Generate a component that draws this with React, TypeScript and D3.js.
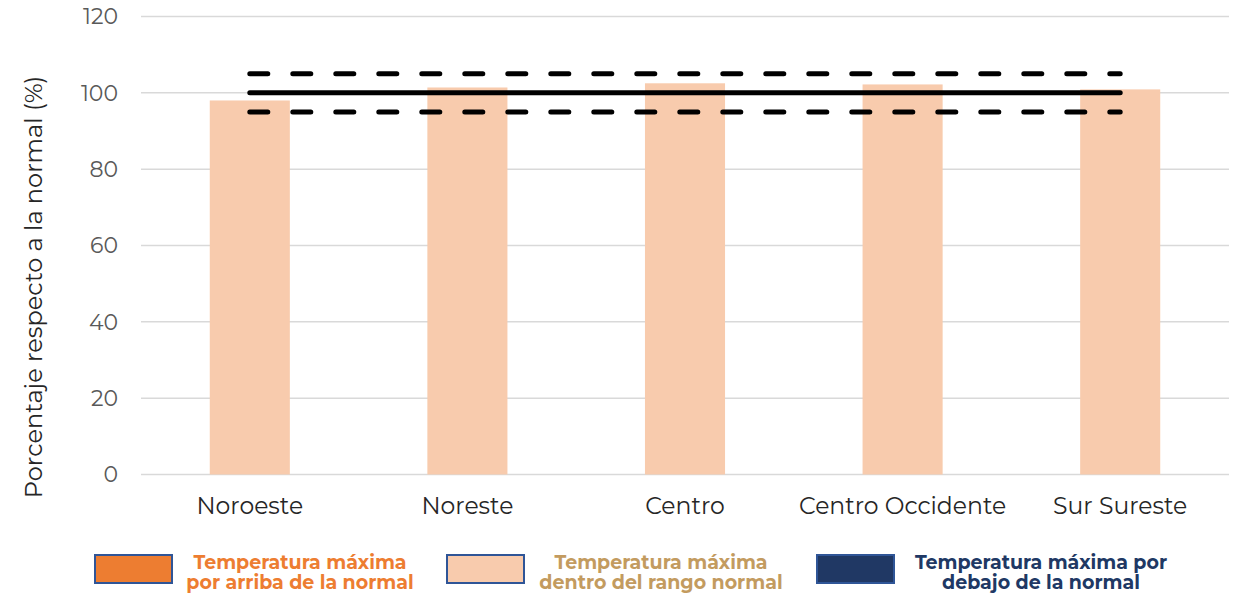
import React from "react";
import * as d3 from "d3";

const categories = ["Noroeste", "Noreste", "Centro", "Centro Occidente", "Sur Sureste"];
const values = [98.0, 101.4, 102.5, 102.2, 100.9];
const yTicks = [0, 20, 40, 60, 80, 100, 120];
const refNormal = 100;
const refUpper = 105;
const refLower = 95;
const legendItems = [
  { lines: ["Temperatura máxima", "por arriba de la normal"], fill: "#ED7D31", text: "#ED7D31" },
  { lines: ["Temperatura máxima", "dentro del rango normal"], fill: "#F8CBAD", text: "#C39B5F" },
  { lines: ["Temperatura máxima por", "debajo de la normal"], fill: "#203864", text: "#203864" },
];

const W = 1238;
const H = 594;
const left = 141;
const right = 1229;
const top = 16.5;
const bottom = 474.5;

export default function App() {
  const x = d3.scaleBand<string>().domain(categories).range([left, right]).paddingInner(0.632).paddingOuter(0.316);
  const xc = d3.scaleBand<string>().domain(categories).range([left, right]);
  const y = d3.scaleLinear().domain([0, 120]).range([bottom, top]);
  const font = "Montserrat, 'Noto Sans', 'Open Sans', sans-serif";
  const first = xc(categories[0])! + xc.bandwidth() / 2;
  const last = xc(categories[categories.length - 1])! + xc.bandwidth() / 2;
  const line = d3.line<[number, number]>();
  const legendBoxX = [95, 447, 817];
  const legendTextX = [300, 661, 1041];
  return (
    <svg width={W} height={H} style={{ position: "absolute", left: 0, top: 0, background: "#fff" }}>
      {yTicks.map((t) => (
        <g key={t}>
          <line x1={left} x2={right} y1={y(t)} y2={y(t)} stroke="#D9D9D9" strokeWidth={1.5} />
          <text x={118} y={y(t)} dy="0.35em" textAnchor="end" fontFamily={font} fontSize={22} fill="#595959">
            {t}
          </text>
        </g>
      ))}
      {categories.map((c, i) => (
        <rect key={c} x={x(c)} y={y(values[i])} width={x.bandwidth()} height={y(0) - y(values[i])} fill="#F8CBAD" />
      ))}
      {categories.map((c) => (
        <text key={c} x={xc(c)! + xc.bandwidth() / 2} y={514} textAnchor="middle" fontFamily={font} fontSize={23.5} fill="#262626">
          {c}
        </text>
      ))}
      <path d={line([[first, y(refNormal)], [last, y(refNormal)]])!} stroke="#000" strokeWidth={5} strokeLinecap="round" fill="none" />
      {[refUpper, refLower].map((v) => (
        <path key={v} d={line([[first, y(v)], [last, y(v)]])!} stroke="#000" strokeWidth={5} strokeLinecap="round" strokeDasharray="18,25" fill="none" />
      ))}
      <text transform={`translate(42,287) rotate(-90)`} textAnchor="middle" fontFamily={font} fontSize={24} fill="#262626">
        Porcentaje respecto a la normal (%)
      </text>
      {legendItems.map((it, i) => (
        <g key={i}>
          <rect x={legendBoxX[i]} y={555} width={77} height={28} fill={it.fill} stroke="#2F5597" strokeWidth={2} />
          {it.lines.map((l, j) => (
            <text key={j} x={legendTextX[i]} y={568.5 + j * 20.5} textAnchor="middle" fontFamily={font} fontWeight="bold" fontSize={19} fill={it.text}>
              {l}
            </text>
          ))}
        </g>
      ))}
    </svg>
  );
}
